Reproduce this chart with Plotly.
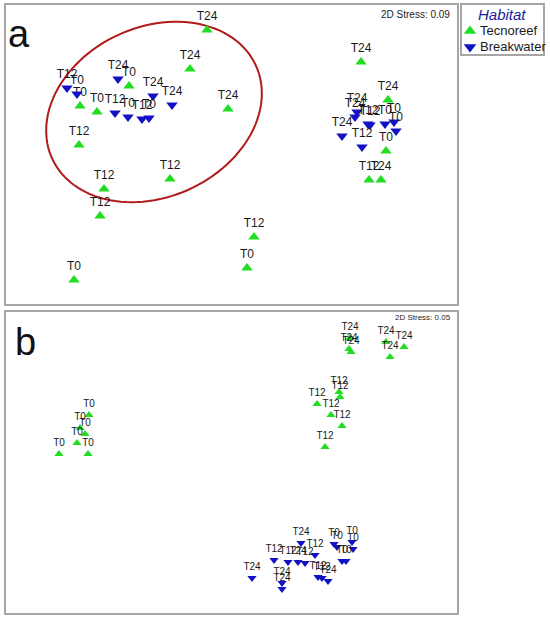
import numpy as np
import plotly.graph_objects as go

# NMDS ordination coordinates (arbitrary units; y grows downward)
habitats = ["Tecnoreef", "Breakwater"]
colors = {"Tecnoreef": "#22dd22", "Breakwater": "#1212c4"}
symbols = {"Tecnoreef": "triangle-up", "Breakwater": "triangle-down"}

# panel a
a_tec_x = [129, 80, 97, 247, 74, 386, 79, 104, 170, 100, 254, 369, 207, 190, 228, 361, 388, 381]
a_tec_y = [86, 106, 112, 268, 280, 151, 145, 189, 179, 216, 237, 180, 30, 69, 109, 62, 100, 180]
a_tec_lab = ["T0"] * 6 + ["T12"] * 6 + ["T24"] * 6

a_brk_x = [77, 128, 149, 385, 394, 396, 67, 115, 142, 368, 370, 362, 118, 153, 172, 357, 355, 342]
a_brk_y = [94, 117, 118, 124, 122, 131, 88, 113, 119, 124, 125, 147, 79, 96, 105, 112, 117, 136]
a_brk_lab = ["T0"] * 6 + ["T12"] * 6 + ["T24"] * 6

# panel b
b_tec_x = [89, 80, 85, 77, 59, 88, 339, 340, 317, 331, 342, 325, 350, 349, 351, 386, 404, 390]
b_tec_y = [415, 428, 434, 443, 454, 454, 392, 397, 404, 415, 426, 447, 338, 349, 352, 342, 347, 357]
b_tec_lab = ["T0"] * 6 + ["T12"] * 6 + ["T24"] * 6

b_brk_x = [334, 337, 352, 353, 342, 346, 274, 288, 305, 315, 318, 322, 252, 301, 298, 282, 282, 328]
b_brk_y = [544, 547, 542, 549, 561, 561, 560, 562, 563, 555, 577, 578, 578, 543, 562, 583, 589, 581]
b_brk_lab = ["T0"] * 6 + ["T12"] * 6 + ["T24"] * 6

stress = {"a": "2D Stress: 0.09", "b": "2D Stress: 0.05"}

W, H = 550, 620
FONT = "Arial, Liberation Sans, sans-serif"
BOX = "#a6a6a6"

fig = go.Figure()

def add_panel(xs, ys, labs, hab, xa, ya, msize, fsize):
    fig.add_trace(go.Scatter(
        x=xs, y=ys, text=labs, mode="markers+text", textposition="top center",
        marker=dict(symbol=symbols[hab], color=colors[hab], size=msize),
        textfont=dict(family=FONT, size=fsize, color="#1a1a1a"),
        xaxis=xa, yaxis=ya, showlegend=False, cliponaxis=False))

add_panel(a_tec_x, a_tec_y, a_tec_lab, "Tecnoreef", "x", "y", 10, 12)
add_panel(a_brk_x, a_brk_y, a_brk_lab, "Breakwater", "x", "y", 10, 12)
add_panel(b_tec_x, b_tec_y, b_tec_lab, "Tecnoreef", "x2", "y2", 8, 10)
add_panel(b_brk_x, b_brk_y, b_brk_lab, "Breakwater", "x2", "y2", 8, 10)

# red ellipse round the left group in panel a
cx, cy, ea, eb, th = 154, 112, 112, 85, np.radians(24.5)
t = np.linspace(0, 2 * np.pi, 120)
ex = cx + ea * np.cos(t) * np.cos(th) - eb * np.sin(t) * np.sin(th)
ey = cy - (ea * np.cos(t) * np.sin(th) + eb * np.sin(t) * np.cos(th))
path = "M " + " L ".join(f"{u:.1f},{v:.1f}" for u, v in zip(ex, ey)) + " Z"
fig.add_shape(type="path", path=path, xref="x", yref="y",
              line=dict(color="#b01c1c", width=2), layer="below")

# hand-made legend box
leg_y = [26 + 16 * i for i in range(len(habitats))]
fig.add_trace(go.Scatter(
    x=[8] * len(habitats), y=leg_y, mode="markers",
    marker=dict(symbol=[symbols[h] for h in habitats], color=[colors[h] for h in habitats], size=11),
    xaxis="x3", yaxis="y3", showlegend=False))
for h, yy in zip(habitats, leg_y):
    fig.add_annotation(x=16, y=yy, text=h, xref="x3", yref="y3", xanchor="left", yanchor="middle",
                       showarrow=False, font=dict(family=FONT, size=13, color="#1a1a1a"))
fig.add_annotation(x=40, y=10, text="<i>Habitat</i>", xref="x3", yref="y3", showarrow=False,
                   font=dict(family=FONT, size=15, color="#1c1c9c"))

# panel letters and stress values
fig.add_annotation(x=19, y=34, text="a", xref="x", yref="y", showarrow=False,
                   font=dict(family=FONT, size=38, color="#111"))
fig.add_annotation(x=25, y=342, text="b", xref="x2", yref="y2", showarrow=False,
                   font=dict(family=FONT, size=38, color="#111"))
fig.add_annotation(x=452, y=15, text=stress["a"], xref="x", yref="y", xanchor="right", showarrow=False,
                   font=dict(family=FONT, size=10, color="#222"))
fig.add_annotation(x=453, y=318, text=stress["b"], xref="x2", yref="y2", xanchor="right", showarrow=False,
                   font=dict(family=FONT, size=8, color="#222"))

def ax(domain, rng, anchor, reverse=False):
    return dict(domain=domain, range=rng[::-1] if reverse else rng, anchor=anchor,
                showgrid=False, zeroline=False, showticklabels=False, ticks="",
                showline=True, mirror=True, linecolor=BOX, linewidth=1.5, fixedrange=True)

fig.update_layout(
    width=W, height=H, margin=dict(l=0, r=0, t=0, b=0),
    paper_bgcolor="white", plot_bgcolor="white",
    xaxis=ax([6 / W, 457 / W], [6, 457], "y"),
    yaxis=ax([1 - 304 / H, 1 - 5 / H], [5, 304], "x", reverse=True),
    xaxis2=ax([6 / W, 457 / W], [6, 457], "y2"),
    yaxis2=ax([1 - 613 / H, 1 - 312 / H], [312, 613], "x2", reverse=True),
    xaxis3=ax([462 / W, 543 / W], [0, 81], "y3"),
    yaxis3=ax([1 - 54 / H, 1 - 5 / H], [0, 49], "x3", reverse=True),
)

# drop the page's default body margin so the figure sits at the window's corner
fig.write_html("out.html", config={"displayModeBar": False},
               post_script="document.body.style.margin='0';")
